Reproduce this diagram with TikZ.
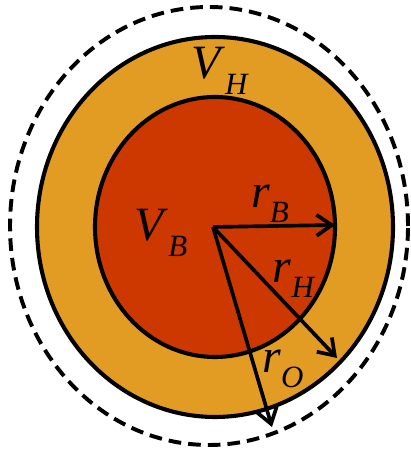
\documentclass[tikz,border=0pt]{standalone}
\usepackage{fontspec}
\setmainfont{Liberation Serif}
\usepackage{xcolor}
\usepackage{tikz}
\usetikzlibrary{arrows.meta}
\definecolor{nucleo}{RGB}{205,55,0}
\definecolor{halo}{RGB}{226,156,36}
\newcommand{\magn}[2]{\textit{#1}\raisebox{-0.32em}{\fontsize{22}{23}\selectfont\textit{#2}}}

\begin{document}
\begin{tikzpicture}[x=0.025cm, y=0.025cm,
  borde/.style={draw=black, line width=2.9pt},
  limite/.style={draw=black, line width=2.8pt, dash pattern=on 9pt off 5pt},
  etiq/.style={inner sep=0pt, font=\fontsize{34}{36}\selectfont},
  flecha/.style={-{Straight Barb[length=3.8mm, width=5.2mm, line width=2.6pt]},
                 line width=2.6pt}]
  \useasboundingbox (0,0) rectangle (410,451);
  % Regiones
  \draw[limite] (209,225) ellipse [x radius=199, y radius=219];
  \draw[borde, fill=halo] (215,224) ellipse [x radius=178, y radius=190];
  \draw[borde, fill=nucleo] (215,224) ellipse [x radius=120, y radius=130];
  % Radios
  \coordinate (ctr) at (213,224);
  \coordinate (finB) at (335,226);
  \coordinate (finH) at (337,93);
  \coordinate (finO) at (272,24);
  \draw[flecha] (ctr) -- (finB);
  \draw[flecha] (ctr) -- (finH);
  \draw[flecha] (ctr) -- (finO);
  % Etiquetas
  \node[etiq] (vh) at (220,380) {\magn{V}{H}};
  \node[etiq] (vb) at (161,218) {\magn{V}{B}};
  \node[etiq] (rb) at (270,247) {\magn{r}{B}};
  \node[etiq] (rh) at (294,172) {\magn{r}{H}};
  \node[etiq] (ro) at (283,82) {\magn{r}{O}};
\end{tikzpicture}
\end{document}
